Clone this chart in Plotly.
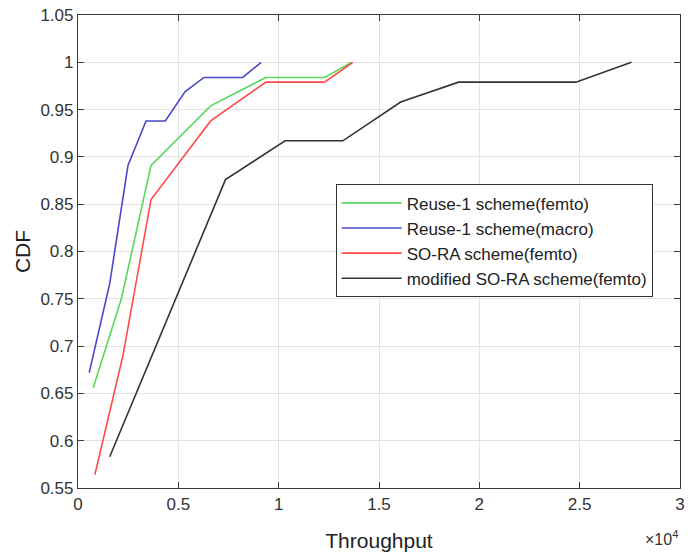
import plotly.graph_objects as go

# Throughput values are in units of 1e4
reuse_femto_x = [0.076, 0.216, 0.364, 0.661, 0.936, 1.229, 1.364]
reuse_femto_y = [0.656, 0.750, 0.891, 0.954, 0.984, 0.984, 1.000]

reuse_macro_x = [0.056, 0.158, 0.249, 0.339, 0.435, 0.534, 0.628, 0.821, 0.913]
reuse_macro_y = [0.672, 0.766, 0.891, 0.938, 0.938, 0.969, 0.984, 0.984, 1.000]

sora_femto_x = [0.084, 0.224, 0.364, 0.661, 0.936, 1.229, 1.369]
sora_femto_y = [0.564, 0.690, 0.855, 0.938, 0.979, 0.979, 1.000]

mod_sora_x = [0.158, 0.735, 1.032, 1.320, 1.608, 1.897, 2.481, 2.758]
mod_sora_y = [0.583, 0.876, 0.917, 0.917, 0.958, 0.979, 0.979, 1.000]

series = [
    ("Reuse-1 scheme(femto)", reuse_femto_x, reuse_femto_y, "#5cd65c"),
    ("Reuse-1 scheme(macro)", reuse_macro_x, reuse_macro_y, "#4848cc"),
    ("SO-RA scheme(femto)", sora_femto_x, sora_femto_y, "#ff4a4a"),
    ("modified SO-RA scheme(femto)", mod_sora_x, mod_sora_y, "#333333"),
]

x_ticks = [0, 0.5, 1, 1.5, 2, 2.5, 3]
x_labels = ["0", "0.5", "1", "1.5", "2", "2.5", "3"]
y_ticks = [0.55, 0.6, 0.65, 0.7, 0.75, 0.8, 0.85, 0.9, 0.95, 1.0, 1.05]
y_labels = ["0.55", "0.6", "0.65", "0.7", "0.75", "0.8", "0.85", "0.9", "0.95", "1", "1.05"]

fig = go.Figure()
for name, xs, ys, color in series:
    fig.add_trace(go.Scatter(x=xs, y=ys, mode="lines", name=name,
                             line=dict(color=color, width=1.6)))

font = "Liberation Sans, Arial, sans-serif"
axis_common = dict(
    showgrid=True, gridcolor="#e3e3e3", gridwidth=1,
    showline=True, linecolor="#3a3a3a", linewidth=1.2, mirror="ticks",
    ticks="inside", ticklen=6, tickcolor="#3a3a3a",
    zeroline=False, tickfont=dict(size=17, color="#333333", family=font),
)

fig.update_layout(
    width=691, height=559,
    margin=dict(l=78, r=6, t=10, b=71),
    paper_bgcolor="white", plot_bgcolor="white",
    font=dict(family=font, color="#222222"),
    xaxis=dict(range=[0, 3], tickvals=x_ticks, ticktext=x_labels,
               title=dict(text="Throughput", font=dict(size=21), standoff=20),
               **axis_common),
    yaxis=dict(range=[0.55, 1.05], tickvals=y_ticks, ticktext=y_labels,
               title=dict(text="CDF", font=dict(size=21), standoff=4),
               **axis_common),
    legend=dict(x=0.428, y=0.642, xanchor="left", yanchor="top",
                bgcolor="white", bordercolor="#333333", borderwidth=1,
                font=dict(size=17, color="#222222", family=font),
                tracegroupgap=0, itemwidth=60),
    showlegend=True,
)

fig.add_annotation(text="×10<sup>4</sup>", xref="paper", yref="paper",
                   x=1.0, y=-0.105, xanchor="right", yanchor="middle",
                   showarrow=False, font=dict(size=16, color="#333333", family=font))

fig.write_html("out.html")
